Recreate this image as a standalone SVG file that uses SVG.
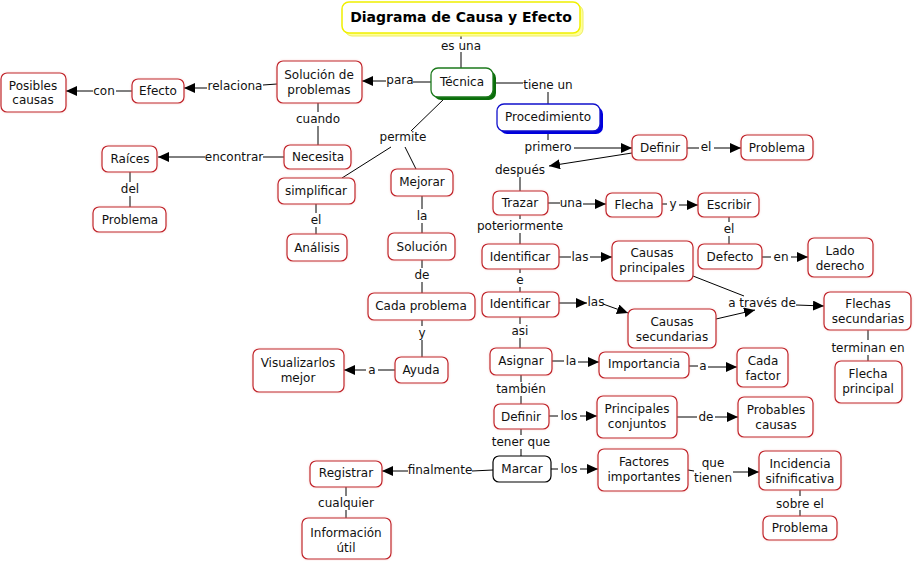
<svg xmlns="http://www.w3.org/2000/svg" width="914" height="561" viewBox="0 0 914 561">
<defs>
<marker id="ah" markerUnits="userSpaceOnUse" markerWidth="12" markerHeight="11" refX="11" refY="5" orient="auto">
<path d="M0,0 L11,5 L0,10 z" fill="#000"/>
</marker>
<filter id="glow" x="-20%" y="-30%" width="140%" height="160%">
<feGaussianBlur in="SourceAlpha" stdDeviation="1"/>
<feColorMatrix type="matrix" values="0 0 0 0 0.85  0 0 0 0 0.2  0 0 0 0 0.2  0 0 0 0.35 0"/>
<feMerge><feMergeNode/><feMergeNode in="SourceGraphic"/></feMerge>
</filter>
<style>
.n rect{fill:#fff;stroke:#c0242a;stroke-width:1.2;filter:url(#glow)}
.n text,.l{font-family:"DejaVu Sans",Verdana,sans-serif;font-size:12px;fill:#111;text-anchor:middle}
.c line,.c polyline{stroke:#000;stroke-width:1;fill:none}
.c .a{marker-end:url(#ah)}
</style>
</defs>
<rect width="914" height="561" fill="#fff"/>

<g class="c">
<line x1="461" y1="34" x2="461" y2="39"/><line x1="461" y1="52" x2="461" y2="68"/>
<line x1="413" y1="82" x2="431" y2="82"/><line class="a" x1="386" y1="81" x2="362" y2="81"/>
<line x1="277" y1="84" x2="263" y2="85"/><line class="a" x1="207" y1="88" x2="184" y2="88"/>
<line x1="132" y1="91" x2="116" y2="91"/><line class="a" x1="93" y1="91" x2="66" y2="91"/>
<line x1="318" y1="103" x2="318" y2="112"/><line x1="318" y1="126" x2="318" y2="145"/>
<line x1="284" y1="157" x2="263" y2="157"/><line class="a" x1="205" y1="157" x2="158" y2="157"/>
<line x1="130" y1="172" x2="130" y2="182"/><line x1="130" y1="196" x2="130" y2="207"/>
<line x1="445" y1="98" x2="411" y2="131"/><line x1="391" y1="147" x2="342" y2="178"/><line x1="405" y1="147" x2="416" y2="169"/>
<line x1="316" y1="204" x2="316" y2="213"/><line x1="316" y1="227" x2="316" y2="234"/>
<line x1="422" y1="196" x2="422" y2="209"/><line x1="422" y1="223" x2="422" y2="233"/>
<line x1="422" y1="260" x2="422" y2="268"/><line x1="422" y1="282" x2="422" y2="293"/>
<line x1="422" y1="320" x2="422" y2="326"/><line x1="422" y1="340" x2="422" y2="357"/>
<line x1="395" y1="370" x2="378" y2="370"/><line class="a" x1="366" y1="370" x2="344" y2="370"/>
<line x1="493" y1="83" x2="523" y2="83"/><line x1="548" y1="92" x2="548" y2="104"/>
<line x1="548" y1="131" x2="548" y2="140"/><line class="a" x1="574" y1="148" x2="632" y2="148"/>
<line x1="687" y1="148" x2="699" y2="148"/><line class="a" x1="714" y1="148" x2="741" y2="148"/>
<line class="a" x1="632" y1="153" x2="549" y2="166"/>
<line x1="520" y1="177" x2="520" y2="191"/>
<line x1="548" y1="203" x2="560" y2="203"/><line class="a" x1="583" y1="204" x2="606" y2="204"/>
<line x1="662" y1="204" x2="667" y2="204"/><line class="a" x1="679" y1="205" x2="698" y2="205"/>
<line x1="729" y1="217" x2="729" y2="222"/><line x1="729" y1="236" x2="729" y2="244"/>
<line x1="762" y1="257" x2="771" y2="257"/><line class="a" x1="791" y1="257" x2="808" y2="257"/>
<line x1="520" y1="215" x2="520" y2="219"/><line x1="520" y1="233" x2="520" y2="244"/>
<line x1="559" y1="257" x2="571" y2="257"/><line class="a" x1="590" y1="257" x2="612" y2="257"/>
<line x1="520" y1="269" x2="520" y2="273"/><line x1="520" y1="287" x2="520" y2="292"/>
<line class="a" x1="559" y1="303" x2="587" y2="303"/><line class="a" x1="603" y1="304" x2="628" y2="313"/>
<line x1="693" y1="276" x2="744" y2="296"/>
<line class="a" x1="716" y1="319" x2="755" y2="310"/>
<line class="a" x1="796" y1="305" x2="824" y2="306"/>
<line x1="868" y1="330" x2="868" y2="340"/><line x1="868" y1="355" x2="868" y2="361"/>
<line x1="520" y1="317" x2="520" y2="324"/><line x1="520" y1="338" x2="520" y2="348"/>
<line x1="552" y1="361" x2="564" y2="361"/><line class="a" x1="578" y1="362" x2="599" y2="362"/>
<line x1="689" y1="366" x2="698" y2="366"/><line class="a" x1="708" y1="367" x2="737" y2="367"/>
<line x1="521" y1="375" x2="521" y2="382"/><line x1="521" y1="396" x2="521" y2="404"/>
<line x1="549" y1="416" x2="558" y2="416"/><line class="a" x1="580" y1="416" x2="597" y2="416"/>
<line x1="677" y1="417" x2="697" y2="417"/><line class="a" x1="715" y1="417" x2="738" y2="417"/>
<line x1="521" y1="429" x2="521" y2="435"/><line x1="521" y1="449" x2="521" y2="456"/>
<line x1="493" y1="470" x2="472" y2="471"/><line class="a" x1="408" y1="471" x2="382" y2="471"/>
<line x1="346" y1="487" x2="346" y2="496"/><line x1="346" y1="510" x2="346" y2="518"/>
<line x1="551" y1="469" x2="558" y2="469"/><line class="a" x1="580" y1="469" x2="598" y2="469"/>
<line x1="688" y1="470" x2="694" y2="471"/><line class="a" x1="733" y1="472" x2="759" y2="472"/>
<line x1="800" y1="490" x2="800" y2="496"/><line x1="800" y1="510" x2="800" y2="516"/>
</g>

<g id="labels">
<text class="l" x="461" y="50">es una</text>
<text class="l" x="400" y="84">para</text>
<text class="l" x="235" y="90">relaciona</text>
<text class="l" x="104" y="95">con</text>
<text class="l" x="318" y="123">cuando</text>
<text class="l" x="234" y="161">encontrar</text>
<text class="l" x="130" y="193">del</text>
<text class="l" x="403" y="141">permite</text>
<text class="l" x="316" y="224">el</text>
<text class="l" x="422" y="220">la</text>
<text class="l" x="422" y="279">de</text>
<text class="l" x="422" y="337">y</text>
<text class="l" x="372" y="374">a</text>
<text class="l" x="548" y="89">tiene un</text>
<text class="l" x="548" y="151">primero</text>
<text class="l" x="706" y="151">el</text>
<text class="l" x="520" y="174">después</text>
<text class="l" x="571" y="207">una</text>
<text class="l" x="673" y="208">y</text>
<text class="l" x="729" y="233">el</text>
<text class="l" x="781" y="261">en</text>
<text class="l" x="520" y="230">poteriormente</text>
<text class="l" x="580" y="261">las</text>
<text class="l" x="520" y="284">e</text>
<text class="l" x="596" y="306">las</text>
<text class="l" x="762" y="307">a través de</text>
<text class="l" x="868" y="352">terminan en</text>
<text class="l" x="520" y="335">asi</text>
<text class="l" x="571" y="365">la</text>
<text class="l" x="703" y="370">a</text>
<text class="l" x="521" y="393">también</text>
<text class="l" x="569" y="420">los</text>
<text class="l" x="706" y="421">de</text>
<text class="l" x="521" y="446">tener que</text>
<text class="l" x="440" y="474">finalmente</text>
<text class="l" x="346" y="507">cualquier</text>
<text class="l" x="569" y="473">los</text>
<text class="l" x="713" y="467">que</text>
<text class="l" x="713" y="482">tienen</text>
<text class="l" x="800" y="508">sobre el</text>
</g>

<g id="title">
<rect x="345" y="5" width="238" height="31" rx="7" fill="#ffff99" stroke="#eeee66"/>
<rect x="342" y="2" width="238" height="31" rx="7" fill="#fff" stroke="#f0f000" stroke-width="1.5"/>
<text x="461" y="22" style="font-family:'DejaVu Sans',Verdana,sans-serif;font-size:14px;font-weight:bold;text-anchor:middle;fill:#000">Diagrama de Causa y Efecto</text>
</g>

<g id="tecnica">
<rect x="434" y="71" width="62" height="29" rx="7" fill="#0a6e0a"/>
<rect x="431" y="68" width="62" height="29" rx="7" fill="#fff" stroke="#1d7a1d" stroke-width="1.3"/>
<text class="l" x="462" y="86">Técnica</text>
</g>

<g id="procedimiento">
<rect x="500" y="107" width="103" height="27" rx="7" fill="#0000dd"/>
<rect x="497" y="104" width="103" height="27" rx="7" fill="#fff" stroke="#1010cc" stroke-width="1.3"/>
<text class="l" x="548" y="121">Procedimiento</text>
</g>

<g id="solucion_problemas" class="n"><rect x="277" y="61" width="85" height="42" rx="6"/><text x="319" y="79">Solución de</text><text x="319" y="94">problemas</text></g>
<g id="efecto" class="n"><rect x="132" y="79" width="52" height="24" rx="6"/><text x="158" y="95">Efecto</text></g>
<g id="posibles_causas" class="n"><rect x="1" y="73" width="65" height="39" rx="6"/><text x="33" y="90">Posibles</text><text x="33" y="104">causas</text></g>
<g id="necesita" class="n"><rect x="284" y="145" width="67" height="24" rx="6"/><text x="318" y="161">Necesita</text></g>
<g id="raices" class="n"><rect x="102" y="146" width="55" height="26" rx="6"/><text x="130" y="163">Raíces</text></g>
<g id="problema_izq" class="n"><rect x="93" y="207" width="73" height="25" rx="6"/><text x="130" y="224">Problema</text></g>
<g id="simplificar" class="n"><rect x="278" y="178" width="77" height="26" rx="6"/><text x="316" y="195">simplificar</text></g>
<g id="analisis" class="n"><rect x="287" y="234" width="60" height="27" rx="6"/><text x="317" y="252">Análisis</text></g>
<g id="mejorar" class="n"><rect x="391" y="169" width="62" height="27" rx="6"/><text x="422" y="186">Mejorar</text></g>
<g id="solucion" class="n"><rect x="388" y="233" width="67" height="27" rx="6"/><text x="422" y="251">Solución</text></g>
<g id="cada_problema" class="n"><rect x="368" y="293" width="107" height="27" rx="6"/><text x="421" y="310">Cada problema</text></g>
<g id="ayuda" class="n"><rect x="395" y="357" width="53" height="26" rx="6"/><text x="421" y="374">Ayuda</text></g>
<g id="visualizarlos" class="n"><rect x="253" y="349" width="91" height="43" rx="6"/><text x="298" y="367">Visualizarlos</text><text x="298" y="382">mejor</text></g>
<g id="definir1" class="n"><rect x="632" y="135" width="55" height="25" rx="6"/><text x="660" y="152">Definir</text></g>
<g id="problema_der" class="n"><rect x="741" y="135" width="72" height="25" rx="6"/><text x="777" y="152">Problema</text></g>
<g id="trazar" class="n"><rect x="493" y="191" width="55" height="24" rx="6"/><text x="520" y="207">Trazar</text></g>
<g id="flecha" class="n"><rect x="606" y="193" width="56" height="24" rx="6"/><text x="634" y="209">Flecha</text></g>
<g id="escribir" class="n"><rect x="698" y="193" width="61" height="24" rx="6"/><text x="729" y="209">Escribir</text></g>
<g id="defecto" class="n"><rect x="698" y="244" width="64" height="25" rx="6"/><text x="730" y="261">Defecto</text></g>
<g id="lado_derecho" class="n"><rect x="808" y="238" width="65" height="39" rx="6"/><text x="840" y="255">Lado</text><text x="840" y="270">derecho</text></g>
<g id="identificar1" class="n"><rect x="482" y="244" width="77" height="25" rx="6"/><text x="520" y="261">Identificar</text></g>
<g id="causas_principales" class="n"><rect x="612" y="241" width="81" height="40" rx="6"/><text x="652" y="257">Causas</text><text x="652" y="272">principales</text></g>
<g id="identificar2" class="n"><rect x="482" y="292" width="77" height="25" rx="6"/><text x="520" y="308">Identificar</text></g>
<g id="causas_secundarias" class="n"><rect x="628" y="309" width="88" height="39" rx="6"/><text x="672" y="326">Causas</text><text x="672" y="341">secundarias</text></g>
<g id="flechas_secundarias" class="n"><rect x="824" y="292" width="87" height="38" rx="6"/><text x="868" y="308">Flechas</text><text x="868" y="323">secundarias</text></g>
<g id="flecha_principal" class="n"><rect x="835" y="361" width="67" height="42" rx="6"/><text x="868" y="378">Flecha</text><text x="868" y="393">principal</text></g>
<g id="asignar" class="n"><rect x="490" y="348" width="62" height="27" rx="6"/><text x="521" y="365">Asignar</text></g>
<g id="importancia" class="n"><rect x="599" y="352" width="90" height="26" rx="6"/><text x="644" y="368">Importancia</text></g>
<g id="cada_factor" class="n"><rect x="737" y="348" width="51" height="39" rx="6"/><text x="763" y="365">Cada</text><text x="763" y="380">factor</text></g>
<g id="definir2" class="n"><rect x="494" y="404" width="55" height="25" rx="6"/><text x="521" y="421">Definir</text></g>
<g id="principales_conjuntos" class="n"><rect x="597" y="396" width="80" height="42" rx="6"/><text x="637" y="413">Principales</text><text x="637" y="428">conjuntos</text></g>
<g id="probables_causas" class="n"><rect x="738" y="397" width="75" height="40" rx="6"/><text x="776" y="414">Probables</text><text x="776" y="429">causas</text></g>
<g id="marcar" class="n"><rect x="493" y="456" width="58" height="26" rx="6" style="stroke:#000;filter:none"/><text x="522" y="473">Marcar</text></g>
<g id="registrar" class="n"><rect x="310" y="461" width="72" height="26" rx="6"/><text x="346" y="477">Registrar</text></g>
<g id="informacion_util" class="n"><rect x="302" y="518" width="89" height="41" rx="6"/><text x="346" y="537">Información</text><text x="346" y="552">útil</text></g>
<g id="factores_importantes" class="n"><rect x="598" y="449" width="90" height="42" rx="6"/><text x="644" y="466">Factores</text><text x="644" y="481">importantes</text></g>
<g id="incidencia" class="n"><rect x="759" y="451" width="82" height="39" rx="6"/><text x="800" y="468">Incidencia</text><text x="800" y="483">sifnificativa</text></g>
<g id="problema_abajo" class="n"><rect x="763" y="516" width="74" height="24" rx="6"/><text x="800" y="532">Problema</text></g>
</svg>
